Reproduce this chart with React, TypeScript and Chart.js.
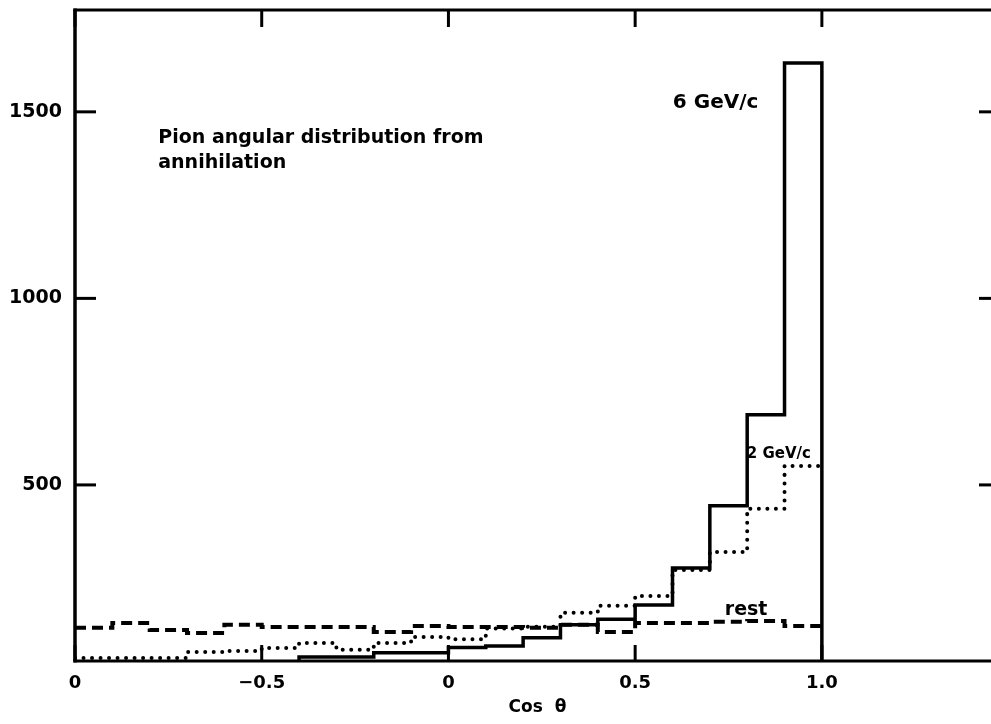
import React, { useEffect, useRef } from "react";
import { Chart, registerables } from "chart.js";

Chart.register(...registerables);

// Histogram bin edges (cos θ), 20 bins of width 0.1
const binEdges = [
  -1.0, -0.9, -0.8, -0.7, -0.6, -0.5, -0.4, -0.3, -0.2, -0.1,
  0.0, 0.1, 0.2, 0.3, 0.4, 0.5, 0.6, 0.7, 0.8, 0.9, 1.0,
];

// 6 GeV/c (solid)
const gev6Counts = [
  10, 12, 15, 18, 22, 26, 39, 39, 50, 50,
  64, 68, 90, 125, 140, 178, 277, 444, 688, 1631,
];

// 2 GeV/c (dotted)
const gev2Counts = [
  36, 36, 36, 52, 55, 63, 76, 58, 76, 92,
  86, 115, 120, 157, 176, 202, 272, 320, 436, 551,
];

// at rest (dashed)
const restCounts = [
  117, 130, 111, 103, 125, 119, 119, 119, 106, 122,
  119, 119, 117, 125, 106, 130, 130, 133, 135, 122,
];

const xTickValues = [-1.0, -0.5, 0, 0.5, 1.0];
const xTickLabels = ["0", "\u22120.5", "0", "0.5", "1.0"];
const yTickValues = [500, 1000, 1500];
const yTickLabels = ["500", "1000", "1500"];

const X_MIN = -1.0;
const X_MAX = 1.477;
const Y_MIN = 28;
const Y_MAX = 1773;

const FONT = "'DejaVu Sans', 'Liberation Sans', sans-serif";

const annotations = [
  { text: "Pion angular distribution from", x: -0.777, y: 1416, size: 19 },
  { text: "annihilation", x: -0.777, y: 1349, size: 19 },
  { text: "6 GeV/c", x: 0.601, y: 1510, size: 20 },
  { text: "2 GeV/c", x: 0.799, y: 572, size: 15 },
  { text: "rest", x: 0.74, y: 151, size: 19 },
];

function histPoints(counts: number[], dropToZero: boolean) {
  const pts = counts.map((c, i) => ({ x: binEdges[i], y: c }));
  pts.push({ x: binEdges[counts.length], y: counts[counts.length - 1] });
  if (dropToZero) pts.push({ x: binEdges[counts.length], y: 0 });
  return pts;
}

const framePlugin = {
  id: "frameTicks",
  afterDatasetsDraw(chart: any) {
    const { ctx, chartArea, scales } = chart;
    const { left, right, top, bottom } = chartArea;
    ctx.save();
    ctx.strokeStyle = "#000";
    ctx.lineCap = "butt";
    ctx.lineWidth = 3.5;
    ctx.beginPath();
    ctx.moveTo(left, top - 1.5);
    ctx.lineTo(left, bottom + 1.5);
    ctx.stroke();
    ctx.lineWidth = 3;
    ctx.beginPath();
    ctx.moveTo(left - 1.5, top);
    ctx.lineTo(right, top);
    ctx.stroke();
    ctx.beginPath();
    ctx.moveTo(left - 1.5, bottom);
    ctx.lineTo(right, bottom);
    ctx.stroke();
    ctx.beginPath();
    ctx.moveTo(right, top);
    ctx.lineTo(right, bottom);
    ctx.stroke();
    ctx.lineWidth = 3;
    xTickValues.forEach((v) => {
      const px = scales.x.getPixelForValue(v);
      ctx.beginPath();
      ctx.moveTo(px, bottom);
      ctx.lineTo(px, bottom - 16);
      ctx.stroke();
      ctx.beginPath();
      ctx.moveTo(px, top);
      ctx.lineTo(px, top + 17);
      ctx.stroke();
    });
    yTickValues.forEach((v) => {
      const py = scales.y.getPixelForValue(v);
      ctx.beginPath();
      ctx.moveTo(left, py);
      ctx.lineTo(left + 21, py);
      ctx.stroke();
      ctx.beginPath();
      ctx.moveTo(right, py);
      ctx.lineTo(right - 21, py);
      ctx.stroke();
    });
    ctx.fillStyle = "#000";
    ctx.textAlign = "left";
    ctx.textBaseline = "alphabetic";
    annotations.forEach((a) => {
      ctx.font = `bold ${a.size}px ${FONT}`;
      ctx.fillText(a.text, scales.x.getPixelForValue(a.x), scales.y.getPixelForValue(a.y));
    });
    ctx.restore();
  },
};

export default function App() {
  const canvasRef = useRef<HTMLCanvasElement | null>(null);

  useEffect(() => {
    const canvas = canvasRef.current;
    if (!canvas) return;
    const chart = new Chart(canvas, {
      type: "line",
      data: {
        datasets: [
          {
            label: "rest",
            data: histPoints(restCounts, false),
            borderColor: "#000",
            borderWidth: 4,
            borderDash: [11, 6],
            borderCapStyle: "butt",
            stepped: "before",
            pointRadius: 0,
            fill: false,
          },
          {
            label: "2 GeV/c",
            data: histPoints(gev2Counts, false),
            borderColor: "#000",
            borderWidth: 4,
            borderDash: [0.01, 8.5],
            borderCapStyle: "round",
            stepped: "before",
            pointRadius: 0,
            fill: false,
          },
          {
            label: "6 GeV/c",
            data: histPoints(gev6Counts, true),
            borderColor: "#000",
            borderWidth: 3.5,
            borderJoinStyle: "miter",
            stepped: "before",
            pointRadius: 0,
            fill: false,
          },
        ],
      },
      options: {
        responsive: false,
        animation: false,
        devicePixelRatio: 1,
        layout: { padding: { top: 10, right: 0, left: 0, bottom: 0 } },
        plugins: {
          legend: { display: false },
          tooltip: { enabled: false },
          title: { display: false },
        },
        scales: {
          x: {
            type: "linear",
            min: X_MIN,
            max: X_MAX,
            grid: { display: false, drawTicks: false },
            border: { display: false },
            afterBuildTicks: (scale: any) => {
              scale.ticks = xTickValues.map((v) => ({ value: v }));
            },
            afterFit: (scale: any) => {
              scale.height = 63;
              scale.paddingLeft = 0;
              scale.paddingRight = 0;
            },
            ticks: {
              autoSkip: false,
              maxRotation: 0,
              padding: 12,
              color: "#000",
              font: { family: FONT, size: 18, weight: "bold" },
              callback: (_v: any, i: number) => xTickLabels[i],
            },
            title: {
              display: true,
              text: "Cos  \u03B8",
              color: "#000",
              font: { family: FONT, size: 17, weight: "bold" },
              padding: { top: 0, bottom: 6 },
            },
          },
          y: {
            type: "linear",
            min: Y_MIN,
            max: Y_MAX,
            grid: { display: false, drawTicks: false },
            border: { display: false },
            afterBuildTicks: (scale: any) => {
              scale.ticks = yTickValues.map((v) => ({ value: v }));
            },
            afterFit: (scale: any) => {
              scale.width = 75;
              scale.paddingTop = 0;
              scale.paddingBottom = 0;
            },
            ticks: {
              padding: 13,
              color: "#000",
              font: { family: FONT, size: 19, weight: "bold" },
              callback: (_v: any, i: number) => yTickLabels[i],
            },
          },
        },
      },
      plugins: [framePlugin],
    } as any);
    return () => chart.destroy();
  }, []);

  return (
    <div
      style={{
        position: "fixed",
        left: 0,
        top: 0,
        width: 991,
        height: 724,
        overflow: "hidden",
        background: "#fff",
      }}
    >
      <canvas ref={canvasRef} width={1000} height={724} style={{ display: "block" }} />
    </div>
  );
}
